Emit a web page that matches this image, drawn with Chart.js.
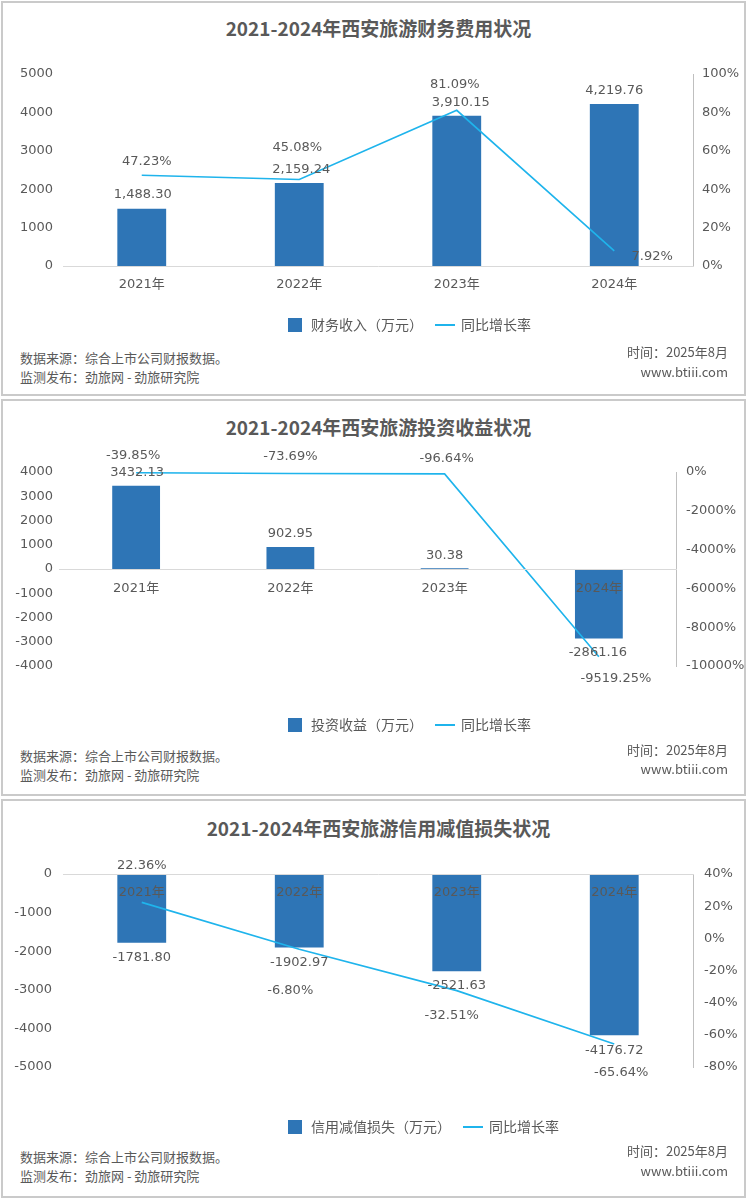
<!DOCTYPE html>
<html lang="zh-CN">
<head>
<meta charset="utf-8">
<title>2021-2024年西安旅游财务状况</title>
<script src="https://cdn.jsdelivr.net/npm/chart.js@4.4.1/dist/chart.umd.min.js"></script>
<style>
  body { margin: 0; width: 747px; height: 1200px; position: relative; overflow: hidden;
         background: #fff; color: #595959; font-family: "Noto Sans CJK SC", sans-serif; }
  .panel { position: absolute; left: 1px; width: 745px; box-sizing: border-box; border: 2px solid #cacaca; }
  .chart { position: absolute; left: 0; }
  .title { position: absolute; left: 5px; width: 747px; text-align: center; font-size: 19px;
           font-weight: bold; line-height: 24px; color: #595959; }
  .note { position: absolute; font-size: 13px; line-height: 16px; white-space: nowrap; }
  .note.l { left: 20px; }
  .note.r { right: 19px; text-align: right; }
</style>
</head>
<body>

<div class="panel" style="top:1px;height:395px"></div>
<div class="panel" style="top:399px;height:397px"></div>
<div class="panel" style="top:799px;height:399px"></div>

<div class="title" style="top:16px">2021-2024年西安旅游财务费用状况</div>
<div class="title" style="top:415px">2021-2024年西安旅游投资收益状况</div>
<div class="title" style="top:816px">2021-2024年西安旅游信用减值损失状况</div>

<canvas id="chart1" class="chart" width="747" height="345" style="top:0px"></canvas>
<canvas id="chart2" class="chart" width="747" height="345" style="top:400px"></canvas>
<canvas id="chart3" class="chart" width="747" height="345" style="top:800px"></canvas>

<div class="note l" style="top:350px">数据来源：综合上市公司财报数据。</div>
<div class="note l" style="top:369px">监测发布：劲旅网 - 劲旅研究院</div>
<div class="note r" style="top:344px">时间：2025年8月</div>
<div class="note r" style="top:364px">www.btiii.com</div>

<div class="note l" style="top:748px">数据来源：综合上市公司财报数据。</div>
<div class="note l" style="top:767px">监测发布：劲旅网 - 劲旅研究院</div>
<div class="note r" style="top:742px">时间：2025年8月</div>
<div class="note r" style="top:761px">www.btiii.com</div>

<div class="note l" style="top:1149px">数据来源：综合上市公司财报数据。</div>
<div class="note l" style="top:1168px">监测发布：劲旅网 - 劲旅研究院</div>
<div class="note r" style="top:1143px">时间：2025年8月</div>
<div class="note r" style="top:1163px">www.btiii.com</div>

<script>
// 类目
const years = ['2021年', '2022年', '2023年', '2024年'];

// 财务费用（万元）及同比增长率（%）
const financeCost = [1488.30, 2159.24, 3910.15, 4219.76];
const financeGrowth = [47.23, 45.08, 81.09, 7.92];

// 投资收益（万元）及同比增长率（%）
const investIncome = [3432.13, 902.95, 30.38, -2861.16];
const investGrowth = [-39.85, -73.69, -96.64, -9519.25];

// 信用减值损失（万元）及同比增长率（%）
const creditLoss = [-1781.80, -1902.97, -2521.63, -4176.72];
const creditGrowth = [22.36, -6.80, -32.51, -65.64];

// 数据标签的偏移 [dx, dy]（像素）
const financeBarOffsets = [[1, -14], [2, -13], [4, -13], [0, -13]];
const financeLineOffsets = [[5, -14], [-2, -32], [-2, -26], [38, 6]];
const investBarOffsets = [[1, -13], [0, -13], [0, -13], [-1, 14]];
const investLineOffsets = [[-3, -17], [0, -17], [2, -15], [17, 22]];
const creditBarOffsets = [[0, 15], [0, 15], [0, 14], [0, 15]];
const creditLineOffsets = [[0, -37], [-9, 41], [-5, 25], [7, 29]];

const BAR_COLOR = '#2e75b6';
const LINE_COLOR = '#1fb4ec';
const TEXT_COLOR = '#595959';
const NUM_FONT = '"DejaVu Sans", "Noto Sans CJK SC", sans-serif';
const CJK_FONT = '"Noto Sans CJK SC", sans-serif';

Chart.defaults.font.family = NUM_FONT;
Chart.defaults.font.size = 13;
Chart.defaults.color = TEXT_COLOR;

// 图例标记：方块和短线
function makeMark(w, h, color) {
    const c = document.createElement('canvas');
    c.width = w;
    c.height = h;
    const g = c.getContext('2d');
    g.fillStyle = color;
    g.fillRect(0, 0, w, h);
    return c;
}
const boxMark = makeMark(14, 14, BAR_COLOR);
const lineMark = makeMark(20, 2, LINE_COLOR);

const withComma = v => v.toLocaleString('en-US', { minimumFractionDigits: 2, maximumFractionDigits: 2 });
const plain = v => v.toFixed(2);
const percent = v => v.toFixed(2) + '%';

// 在柱子和折线点旁边写数值
const valueLabels = {
    id: 'valueLabels',
    afterDatasetsDraw(chart) {
        const ctx = chart.ctx;
        ctx.save();
        ctx.font = '13px ' + NUM_FONT;
        ctx.fillStyle = TEXT_COLOR;
        ctx.textAlign = 'center';
        ctx.textBaseline = 'middle';
        chart.data.datasets.forEach((ds, di) => {
            const meta = chart.getDatasetMeta(di);
            meta.data.forEach((el, i) => {
                const [dx, dy] = ds.labelOffsets[i];
                ctx.fillText(ds.labelText(ds.data[i]), el.x + dx, el.y + dy);
            });
        });
        ctx.restore();
    }
};

// 把图例挪到指定位置
const legendShift = {
    id: 'legendShift',
    afterLayout(chart, args, opts) {
        const lg = chart.legend;
        const dx = opts.x - lg.options.labels.padding - lg.left;
        const dy = opts.y - lg.top;
        lg.left += dx;
        lg.right += dx;
        lg.top += dy;
        lg.bottom += dy;
    }
};

function buildChart(canvasId, o) {
    return new Chart(document.getElementById(canvasId), {
        data: {
            labels: years,
            datasets: [{
                type: 'bar',
                label: o.barLabel,
                data: o.bars,
                yAxisID: 'y',
                order: 2,
                backgroundColor: BAR_COLOR,
                barPercentage: 0.31,
                categoryPercentage: 1,
                labelOffsets: o.barOffsets,
                labelText: o.barText
            }, {
                type: 'line',
                label: '同比增长率',
                data: o.growth,
                yAxisID: 'y1',
                order: 1,
                borderColor: LINE_COLOR,
                borderWidth: 1.6,
                pointRadius: 0,
                tension: 0,
                fill: false,
                labelOffsets: o.lineOffsets,
                labelText: percent
            }]
        },
        options: {
            responsive: false,
            animation: false,
            layout: { padding: o.padding },
            scales: {
                x: {
                    position: o.xPosition,
                    grid: { display: false, drawTicks: false },
                    border: { display: true, color: '#d9d9d9', z: 1 },
                    ticks: { padding: o.xPad, maxRotation: 0, z: 1 },
                    afterFit: o.xHeight ? s => { s.height = o.xHeight; } : undefined
                },
                y: {
                    position: 'left',
                    min: o.yRange[0],
                    max: o.yRange[1],
                    ticks: { stepSize: o.yRange[2], padding: o.yPad, callback: v => String(v) },
                    grid: { display: false, drawTicks: false },
                    border: { display: false },
                    afterFit: s => { s.width = o.yWidth; }
                },
                y1: {
                    position: 'right',
                    min: o.y1Range[0],
                    max: o.y1Range[1],
                    ticks: { stepSize: o.y1Range[2], padding: o.y1Pad, callback: v => v + '%' },
                    grid: { display: false, drawTicks: false },
                    border: { display: true, color: '#bfbfbf' },
                    afterFit: s => { s.width = o.y1Width; }
                }
            },
            plugins: {
                tooltip: { enabled: false },
                legend: {
                    position: 'bottom',
                    align: 'start',
                    labels: {
                        usePointStyle: true,
                        pointStyleWidth: 18,
                        padding: 13,
                        color: TEXT_COLOR,
                        font: { family: CJK_FONT, size: 14 },
                        generateLabels: chart => Chart.defaults.plugins.legend.labels.generateLabels(chart)
                            .sort((a, b) => a.datasetIndex - b.datasetIndex)
                            .map(it => Object.assign(it, { pointStyle: it.datasetIndex === 0 ? boxMark : lineMark }))
                    }
                },
                legendShift: o.legendAt
            }
        },
        plugins: [valueLabels, legendShift]
    });
}

buildChart('chart1', {
    barLabel: '财务收入（万元）',
    bars: financeCost,
    growth: financeGrowth,
    barOffsets: financeBarOffsets,
    lineOffsets: financeLineOffsets,
    barText: withComma,
    padding: { top: 74, bottom: 3, left: 0, right: 0 },
    xPosition: 'bottom',
    xPad: 11,
    xHeight: 39,
    yRange: [0, 5000, 1000],
    y1Range: [0, 100, 20],
    yWidth: 63, yPad: 10,
    y1Width: 54, y1Pad: 9,
    legendAt: { x: 286, y: 305 }
});

buildChart('chart2', {
    barLabel: '投资收益（万元）',
    bars: investIncome,
    growth: investGrowth,
    barOffsets: investBarOffsets,
    lineOffsets: investLineOffsets,
    barText: plain,
    padding: { top: 72, bottom: 42, left: 0, right: 0 },
    xPosition: { y: 0 },
    xPad: 12,
    yRange: [-4000, 4000, 1000],
    y1Range: [-10000, 0, 2000],
    yWidth: 59, yPad: 6,
    y1Width: 71, y1Pad: 10,
    legendAt: { x: 286, y: 305 }
});

buildChart('chart3', {
    barLabel: '信用减值损失（万元）',
    bars: creditLoss,
    growth: creditGrowth,
    barOffsets: creditBarOffsets,
    lineOffsets: creditLineOffsets,
    barText: plain,
    padding: { top: 74, bottom: 41, left: 0, right: 0 },
    xPosition: { y: 0 },
    xPad: 11,
    yRange: [-5000, 0, 1000],
    y1Range: [-80, 40, 20],
    yWidth: 63, yPad: 11,
    y1Width: 54, y1Pad: 11,
    legendAt: { x: 286, y: 307 }
});
</script>
</body>
</html>
